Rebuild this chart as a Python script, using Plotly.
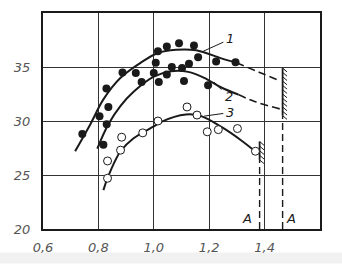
import plotly.graph_objects as go

# ---- data (alpha, eta_v %) ----
pts1_x = [1.015, 1.047, 1.091, 1.145, 1.160, 1.225, 1.295, 0.887, 0.935, 1.007, 0.829, 0.836, 0.804, 0.742]
pts1_y = [36.45, 36.9, 37.2, 37.0, 35.9, 35.5, 35.45, 34.5, 34.45, 35.4, 33.0, 31.3, 30.45, 28.8]

pts2_x = [1.000, 0.956, 1.018, 1.047, 1.065, 1.102, 1.127, 1.109, 1.196, 0.830, 0.818]
pts2_y = [34.45, 33.6, 33.6, 34.3, 35.0, 34.9, 35.3, 33.7, 33.3, 29.7, 27.8]

pts3_x = [0.833, 0.833, 0.880, 0.884, 0.960, 1.015, 1.120, 1.156, 1.193, 1.233, 1.302, 1.367]
pts3_y = [26.3, 24.7, 27.3, 28.5, 28.9, 30.0, 31.3, 30.55, 29.0, 29.2, 29.3, 27.2]

c1_x = [0.716, 0.771, 0.818, 0.880, 0.953, 1.015, 1.080, 1.153, 1.244, 1.298]
c1_y = [27.2, 29.7, 32.0, 34.0, 35.4, 36.3, 36.6, 36.55, 35.8, 35.4]
c1d_x = [1.298, 1.382, 1.458]
c1d_y = [35.4, 34.5, 33.7]

c2_x = [0.796, 0.836, 0.880, 0.927, 1.000, 1.062, 1.124, 1.182, 1.244, 1.305]
c2_y = [27.45, 29.7, 31.4, 32.7, 34.1, 34.6, 34.55, 34.0, 33.1, 32.45]
c2d_x = [1.305, 1.364, 1.458]
c2d_y = [32.45, 31.8, 31.1]

c3_x = [0.818, 0.833, 0.862, 0.880, 0.927, 1.000, 1.025, 1.116, 1.171, 1.244, 1.316, 1.375]
c3_y = [23.6, 24.7, 26.4, 27.2, 28.4, 29.5, 29.9, 30.6, 30.45, 29.45, 28.2, 27.0]

limit_x = [1.382, 1.465]          # limits "A"
limit_lo = [26.4, 30.5]           # hatch bottom
limit_hi = [28.1, 34.9]           # hatch top

x_ticks = [0.6, 0.8, 1.0, 1.2, 1.4]
x_tick_text = ["0,6", "0,8", "1,0", "1,2", "1,4"]
y_ticks = [20, 25, 30, 35]
y_tick_text = ["20", "25", "30", "35"]

INK = "#1a1a1a"
fig = go.Figure()

def line(x, y, dash="solid", w=2.0):
    fig.add_trace(go.Scatter(x=x, y=y, mode="lines",
                             line=dict(color=INK, width=w, dash=dash, shape="spline", smoothing=1.0),
                             hoverinfo="skip", showlegend=False))

line(c1_x, c1_y)
line(c1d_x, c1d_y, dash="8px,4px", w=1.6)
line(c2_x, c2_y)
line(c2d_x, c2d_y, dash="8px,4px", w=1.6)
line(c3_x, c3_y)

# vertical dashed limit lines and hatches
for xl, lo, hi in zip(limit_x, limit_lo, limit_hi):
    fig.add_trace(go.Scatter(x=[xl, xl], y=[20, lo], mode="lines",
                             line=dict(color=INK, width=1.4, dash="7px,4px"),
                             hoverinfo="skip", showlegend=False))
    fig.add_trace(go.Scatter(x=[xl, xl], y=[lo, hi], mode="lines",
                             line=dict(color=INK, width=1.8),
                             hoverinfo="skip", showlegend=False))
    hx, hy = [], []
    n = int((hi - lo) / 0.38)
    for i in range(n + 1):
        yy = hi - i * (hi - lo) / max(n, 1)
        hx += [xl, xl + 0.016, None]
        hy += [yy, yy - 0.35, None]
    fig.add_trace(go.Scatter(x=hx, y=hy, mode="lines",
                             line=dict(color=INK, width=1.0),
                             hoverinfo="skip", showlegend=False))

fig.add_trace(go.Scatter(x=pts1_x, y=pts1_y, mode="markers",
                         marker=dict(size=8, color=INK), showlegend=False))
fig.add_trace(go.Scatter(x=pts2_x, y=pts2_y, mode="markers",
                         marker=dict(size=8, color=INK), showlegend=False))
fig.add_trace(go.Scatter(x=pts3_x, y=pts3_y, mode="markers",
                         marker=dict(size=8, color="white", line=dict(color=INK, width=1)),
                         showlegend=False))

# leader lines for curve labels
leaders = [([1.178, 1.251], [36.45, 37.3]), ([1.218, 1.244], [33.6, 32.9]), ([1.182, 1.251], [30.45, 30.7])]
for lx, ly in leaders:
    fig.add_trace(go.Scatter(x=lx, y=ly, mode="lines", line=dict(color=INK, width=1),
                             hoverinfo="skip", showlegend=False))

lab_font = dict(family="DejaVu Sans", size=13, color=INK, style="italic")
for t, x, y in [("1", 1.275, 37.6), ("2", 1.27, 32.25), ("3", 1.275, 30.75),
                ("A", 1.335, 21.0), ("A", 1.497, 21.0)]:
    fig.add_annotation(x=x, y=y, text=t, showarrow=False, font=lab_font)

fig.add_annotation(x=0.527, y=38.9, text="η<sub>в</sub>,", showarrow=False,
                   font=dict(family="DejaVu Serif", size=12, color=INK, style="italic"))
fig.add_annotation(x=0.545, y=37.8, text="%", showarrow=False,
                   font=dict(family="DejaVu Sans", size=9, color=INK, style="italic"))
fig.add_annotation(x=1.57, y=18.8, text="α", showarrow=False,
                   font=dict(family="DejaVu Serif", size=15, color=INK, style="italic"))

# grey strip at the bottom of the scan
fig.add_shape(type="rect", xref="paper", yref="paper", x0=-0.2, x1=1.2,
              y0=-0.16, y1=-0.109, fillcolor="#f1f1f1", line=dict(width=0), layer="below")

tick_font = dict(family="DejaVu Sans", size=13, color="#555", style="italic")
fig.update_layout(
    width=342, height=266,
    margin=dict(l=43, r=22, t=11, b=34),
    paper_bgcolor="white", plot_bgcolor="white",
    xaxis=dict(range=[0.6, 1.6], tickvals=x_ticks, ticktext=x_tick_text,
               showgrid=True, gridcolor="#333", gridwidth=1,
               showline=True, linecolor=INK, linewidth=2, mirror=True,
               ticks="", tickfont=tick_font, ticklabelstandoff=5, zeroline=False),
    yaxis=dict(range=[20, 40], tickvals=y_ticks, ticktext=y_tick_text,
               showgrid=True, gridcolor="#333", gridwidth=1,
               showline=True, linecolor=INK, linewidth=2, mirror=True,
               ticks="", tickfont=tick_font, ticklabelstandoff=8, zeroline=False),
)

fig.write_html("out.html")
